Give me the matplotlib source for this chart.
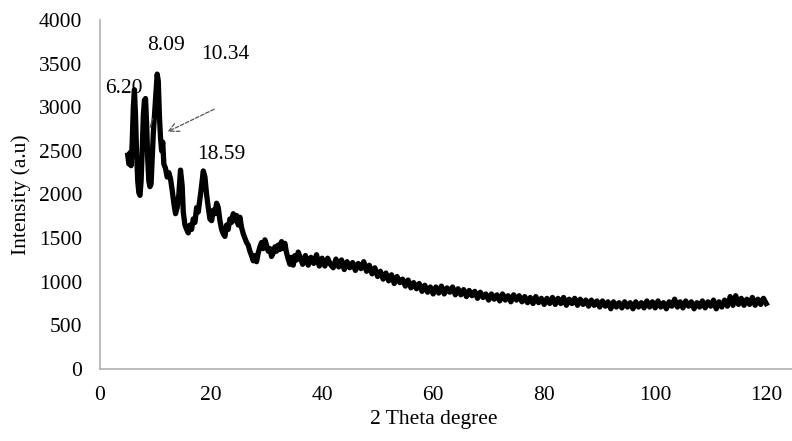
import matplotlib
matplotlib.use("Agg")
import matplotlib.pyplot as plt

# XRD pattern
two_theta = [
    5.0, 5.2, 5.4, 5.6, 5.8, 6.0, 6.2, 6.4, 6.6, 6.8,
    7.0, 7.2, 7.4, 7.6, 7.8, 8.0, 8.2, 8.4, 8.6, 8.8,
    9.0, 9.2, 9.4, 9.6, 9.8, 10.0, 10.3, 10.5, 10.7, 10.9,
    11.1, 11.3, 11.5, 11.8, 12.1, 12.4, 12.7, 13.0, 13.3, 13.6,
    13.9, 14.2, 14.5, 14.8, 15.0, 15.3, 15.6, 15.9, 16.2, 16.5,
    16.8, 17.1, 17.4, 17.7, 18.0, 18.3, 18.6, 18.9, 19.2, 19.5,
    19.8, 20.1, 20.4, 20.7, 21.0, 21.3, 21.6, 21.9, 22.2, 22.5,
    22.8, 23.1, 23.4, 23.7, 24.0, 24.3, 24.6, 24.9, 25.2, 25.5,
    25.8, 26.1, 26.4, 26.7, 27.0, 27.3, 27.6, 27.9, 28.2, 28.5,
    28.8, 29.1, 29.4, 29.7, 30.0, 30.3, 30.6, 30.9, 31.2, 31.5,
    31.8, 32.1, 32.4, 32.7, 33.0, 33.3, 33.6, 33.9, 34.2, 34.5,
    34.8, 35.1, 35.4, 35.7, 36.0,
    36.5, 37.0, 37.5, 38.0, 38.5, 39.0, 39.5, 40.0,
    40.5, 41.0, 41.5, 42.0, 42.5, 43.0, 43.5, 44.0, 44.5, 45.0,
    45.5, 46.0, 46.5, 47.0, 47.5, 48.0, 48.5, 49.0, 49.5, 50.0,
    50.5, 51.0, 51.5, 52.0, 52.5, 53.0, 53.5, 54.0, 54.5, 55.0,
    55.5, 56.0, 56.5, 57.0, 57.5, 58.0, 58.5, 59.0, 59.5, 60.0,
    60.5, 61.0, 61.5, 62.0, 62.5, 63.0, 63.5, 64.0, 64.5, 65.0,
    65.5, 66.0, 66.5, 67.0, 67.5, 68.0, 68.5, 69.0, 69.5, 70.0,
    70.5, 71.0, 71.5, 72.0, 72.5, 73.0, 73.5, 74.0, 74.5, 75.0,
    75.5, 76.0, 76.5, 77.0, 77.5, 78.0, 78.5, 79.0, 79.5, 80.0,
    80.5, 81.0, 81.5, 82.0, 82.5, 83.0, 83.5, 84.0, 84.5, 85.0,
    85.5, 86.0, 86.5, 87.0, 87.5, 88.0, 88.5, 89.0, 89.5, 90.0,
    90.5, 91.0, 91.5, 92.0, 92.5, 93.0, 93.5, 94.0, 94.5, 95.0,
    95.5, 96.0, 96.5, 97.0, 97.5, 98.0, 98.5, 99.0, 99.5, 100.0,
    100.5, 101.0, 101.5, 102.0, 102.5, 103.0, 103.5, 104.0, 104.5, 105.0,
    105.5, 106.0, 106.5, 107.0, 107.5, 108.0, 108.5, 109.0, 109.5, 110.0,
    110.5, 111.0, 111.5, 112.0, 112.5, 113.0, 113.5, 114.0, 114.5, 115.0,
    115.5, 116.0, 116.5, 117.0, 117.5, 118.0, 118.5, 119.0, 119.5, 120.0,
]
intensity = [
    2450, 2350, 2480, 2330, 2600, 3000, 3200, 2900, 2450, 2150,
    2020, 1990, 2150, 2500, 2900, 3080, 3100, 2800, 2400, 2150,
    2090, 2120, 2400, 2700, 2900, 3100, 3380, 3300, 2900, 2650,
    2500, 2600, 2350, 2300, 2200, 2250, 2180, 2050, 1900, 1780,
    1850, 2000, 2280, 2100, 1800, 1650, 1600, 1560, 1650, 1600,
    1720, 1680, 1850, 1800, 1950, 2100, 2270, 2200, 2000, 1850,
    1720, 1700, 1820, 1780, 1900, 1850, 1700, 1600, 1550, 1520,
    1650, 1600, 1720, 1680, 1780, 1700, 1760, 1650, 1740, 1620,
    1550, 1500, 1450, 1420, 1350, 1300, 1240, 1300, 1230, 1330,
    1400, 1450, 1380, 1480, 1420, 1350, 1380, 1290, 1330, 1400,
    1350, 1420, 1370, 1460, 1380, 1440, 1330, 1260, 1200, 1280,
    1190, 1300, 1250, 1340, 1290,
    1200, 1300, 1190, 1280, 1210, 1310, 1180, 1270,
    1180, 1270, 1200, 1160, 1260, 1170, 1250, 1140, 1230, 1160,
    1220, 1130, 1210, 1150, 1230, 1120, 1190, 1090, 1160, 1060,
    1120, 1030, 1100, 1010, 1080, 980, 1060, 990, 1030, 950,
    1020, 930, 990, 920, 980, 890, 960, 880, 940, 860,
    940, 870, 950, 860, 930, 880, 940, 850, 920, 850,
    910, 830, 900, 840, 890, 810, 880, 820, 860, 790,
    860, 800, 850, 780, 860, 790, 840, 770, 850, 790,
    840, 770, 830, 760, 820, 750, 830, 760, 810, 740,
    810, 750, 820, 740, 810, 750, 820, 730, 800, 750,
    810, 730, 800, 740, 790, 720, 790, 730, 780, 710,
    780, 720, 770, 690, 770, 710, 760, 700, 770, 710,
    760, 690, 770, 710, 760, 700, 780, 710, 770, 700,
    780, 710, 760, 690, 770, 720, 800, 710, 770, 700,
    780, 720, 770, 690, 760, 710, 780, 700, 770, 720,
    790, 690, 770, 710, 790, 720, 830, 730, 840, 740,
    810, 730, 800, 740, 820, 730, 800, 740, 810, 750,
]

x_ticks = [0, 20, 40, 60, 80, 100, 120]
y_ticks = [0, 500, 1000, 1500, 2000, 2500, 3000, 3500, 4000]

# peak labels and where they sit
peak_labels = ["6.20", "8.09", "10.34", "18.59"]
peak_label_x = [4.3, 11.8, 22.5, 21.8]
peak_label_y = [3220, 3708, 3605, 2458]

plt.rcParams["font.family"] = ["Liberation Serif", "DejaVu Serif"]
fs = 15.5

fig = plt.figure(figsize=(7.92, 4.41), dpi=100)
ax = fig.add_axes([100 / 792, 72 / 441, 694 / 792, 349 / 441])

ax.plot(two_theta, intensity, color="black", lw=3.8, solid_joinstyle="round")

for txt, px, py in zip(peak_labels, peak_label_x, peak_label_y):
    ax.text(px, py, txt, ha="center", va="center", fontsize=fs)

# arrows pointing at the peaks
ax.annotate("", xy=(11.7, 2705), xytext=(21.0, 2991),
            arrowprops=dict(arrowstyle="->", color="#555555", lw=0.9,
                            linestyle=(0, (3, 1.5)), mutation_scale=18))
ax.annotate("", xy=(8.9, 2740), xytext=(9.6, 2900),
            arrowprops=dict(arrowstyle="-", color="#555555", lw=0.9))

ax.set_xlim(0, 125)
ax.set_ylim(0, 4000)
ax.set_xticks(x_ticks)
ax.set_yticks(y_ticks)
ax.tick_params(length=0, labelsize=fs)
ax.tick_params(axis="y", pad=13)
ax.tick_params(axis="x", pad=12)

for s in ["top", "right"]:
    ax.spines[s].set_visible(False)
for s in ["left", "bottom"]:
    ax.spines[s].set_color("#b0b0b0")
    ax.spines[s].set_linewidth(1.2)

ax.set_xlabel("2 Theta degree", fontsize=fs)
ax.set_ylabel("Intensity (a.u)", fontsize=fs)
ax.xaxis.set_label_coords(334 / 694, -41 / 349)
ax.yaxis.set_label_coords(-69 / 694, 0.5)

fig.savefig("out.png", dpi=100)
